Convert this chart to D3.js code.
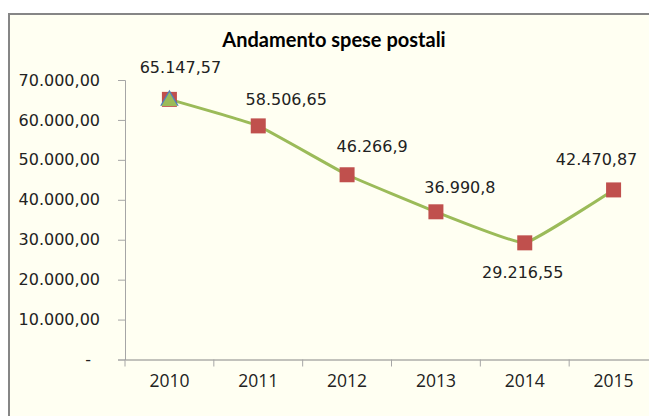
<!DOCTYPE html>
<html>
<head>
<meta charset="utf-8">
<script src="https://cdn.jsdelivr.net/npm/d3@7"></script>
<style>
  body { margin: 0; background: #fff; }
  svg { display: block; }
</style>
</head>
<body>
<div id="grafico"></div>
<script>
// dati
const anni = ["2010", "2011", "2012", "2013", "2014", "2015"];
const spese = [65147.57, 58506.65, 46266.90, 36990.80, 29216.55, 42470.87];
// solo il primo anno ha gli altri due marcatori sovrapposti
const speseTriangolo = [65147.57];
const tickValori = [0, 10000, 20000, 30000, 40000, 50000, 60000, 70000];

const width = 649;
const height = 416;

// spostamento etichette rispetto al punto (come nel foglio Excel)
const offsetEtichette = [[11, -26], [28, -21], [25, -23], [24, -19], [-2, 35], [-17, -25]];

const it = d3.formatLocale({ decimal: ",", thousands: ".", grouping: [3], currency: ["", "€"] });
const fmtAsse = it.format(",.2f");
const fmtEtichetta = it.format(",.2~f");

const svg = d3.select("#grafico")
    .append("svg")
    .attr("width", width)
    .attr("height", height);

// cornice dell'area grafico
svg.append("rect")
    .attr("x", 9)
    .attr("y", 14)
    .attr("width", 700)
    .attr("height", 500)
    .attr("fill", "#fffff2")
    .attr("stroke", "#868686")
    .attr("stroke-width", 2);

// titolo
svg.append("text")
    .attr("x", 334)
    .attr("y", 47)
    .attr("text-anchor", "middle")
    .style("font-family", "Lato, 'Open Sans', sans-serif")
    .style("font-weight", "bold")
    .style("font-size", "20px")
    .attr("fill", "#000")
    .text("Andamento spese postali");

// scale
const x = d3.scaleBand()
    .domain(anni)
    .range([125, 658])
    .padding(0);

const y = d3.scaleLinear()
    .domain([0, 70000])
    .range([359.5, 80]);

// asse Y
const assey = svg.append("g")
    .attr("transform", "translate(125,0)")
    .call(d3.axisLeft(y)
        .tickValues(tickValori)
        .tickSize(7)
        .tickPadding(18)
        .tickFormat(d => d === 0 ? "-" : fmtAsse(d)));
assey.select(".domain").attr("stroke", "#a6a6a6");
assey.selectAll(".tick line").attr("stroke", "#a6a6a6");
assey.selectAll(".tick text")
    .style("font-family", "'DejaVu Sans', sans-serif")
    .style("font-size", "16px")
    .attr("fill", "#222")
    .attr("dx", d => d === 0 ? -9 : 0);

// asse X
const assex = svg.append("g")
    .attr("transform", "translate(0," + y(0) + ")")
    .call(d3.axisBottom(x).tickSize(0).tickPadding(15));
assex.select(".domain").attr("stroke", "#868686");
assex.selectAll(".tick text")
    .style("font-family", "'Open Sans', sans-serif")
    .style("font-size", "17.5px")
    .attr("fill", "#222");

// tacche tra le categorie
svg.append("g")
    .selectAll("line")
    .data(anni.concat(["fine"]))
    .enter()
    .append("line")
    .attr("x1", d => d === "fine" ? x.range()[1] : x(d))
    .attr("x2", d => d === "fine" ? x.range()[1] : x(d))
    .attr("y1", y(0))
    .attr("y2", y(0) + 7)
    .attr("stroke", "#a6a6a6");

// linea (smussata come in Excel)
const linea = d3.line()
    .x((d, i) => x(anni[i]) + x.bandwidth() / 2)
    .y(d => y(d))
    .curve(d3.curveCardinal.tension(0.7));

svg.append("path")
    .datum(spese)
    .attr("d", linea)
    .attr("fill", "none")
    .attr("stroke", "#9bbb59")
    .attr("stroke-width", 3);

// marcatori quadrati
const lato = 15;
svg.selectAll(".quadrato")
    .data(spese)
    .enter()
    .append("rect")
    .attr("class", "quadrato")
    .attr("x", (d, i) => x(anni[i]) + x.bandwidth() / 2 - lato / 2)
    .attr("y", d => y(d) - lato / 2)
    .attr("width", lato)
    .attr("height", lato)
    .attr("fill", "#c0504d");

// triangoli sovrapposti al primo punto
const triangolo = d3.symbol().type(d3.symbolTriangle);
svg.selectAll(".triBlu")
    .data(speseTriangolo)
    .enter()
    .append("path")
    .attr("transform", (d, i) => "translate(" + (x(anni[i]) + x.bandwidth() / 2) + "," + (y(d) + 1) + ")")
    .attr("d", triangolo.size(150)())
    .attr("fill", "#4f81bd");
svg.selectAll(".triVerde")
    .data(speseTriangolo)
    .enter()
    .append("path")
    .attr("transform", (d, i) => "translate(" + (x(anni[i]) + x.bandwidth() / 2) + "," + (y(d) + 2) + ")")
    .attr("d", triangolo.size(110)())
    .attr("fill", "#9bbb59");

// etichette dati
svg.selectAll(".etichetta")
    .data(spese)
    .enter()
    .append("text")
    .attr("class", "etichetta")
    .attr("x", (d, i) => x(anni[i]) + x.bandwidth() / 2 + offsetEtichette[i][0])
    .attr("y", (d, i) => y(d) + offsetEtichette[i][1])
    .attr("text-anchor", "middle")
    .style("font-family", "'DejaVu Sans', sans-serif")
    .style("font-size", "16px")
    .attr("fill", "#222")
    .text(d => fmtEtichetta(d));
</script>
</body>
</html>
